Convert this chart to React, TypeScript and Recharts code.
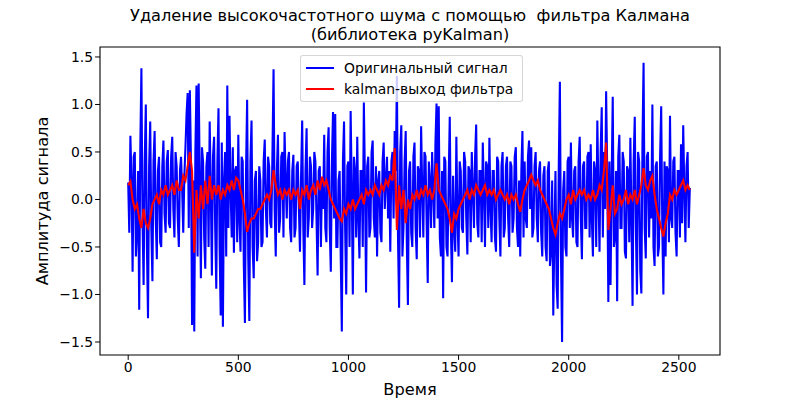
import { LineChart, Line, XAxis, YAxis, ReferenceArea } from "recharts";

// time step between plotted samples
const BLUE_STEP = 5;
const RED_STEP = 10;

const originalSignal = [
  0.18, -0.35, 0.67, 0.2, -0.76, 0.45, 0.5, -0.6, -0.35, 0.3, -1.16, 0.55, 1.38, -0.2, -0.9, 0.4, 1.0, -0.5, -1.25, 0.35,
  0.82, -0.3, -0.86, 0.4, 0.72, -0.2, -0.63, 0.3, 0.45, -0.45, -0.5, 0.35, 0.62, -0.15, -0.35, 0.4, 0.52, -0.25, -0.3, 0.45,
  0.66, -0.1, -0.4, 0.5, 0.35, -0.2, -0.5, 0.3, 0.45, 0.1, -0.35, 0.25, 0.55, 0.9, 1.12, -0.3, 1.15, 0.4, -1.32, 0.2,
  -1.39, 0.5, 1.2, -0.6, 1.22, 0.2, -0.83, 0.55, 0.4, -0.4, -0.73, 0.35, 0.5, -0.5, 0.82, 0.1, -0.8, 0.45, 0.66, -0.3,
  -0.94, 0.4, 0.96, -0.5, -1.22, 0.6, -1.34, 0.2, 0.5, -0.6, 1.2, -0.3, 0.88, 0.1, -0.4, 0.55, -0.56, 0.3, 0.35, -0.45,
  0.68, -0.2, -0.55, 0.45, 0.4, -0.7, -1.3, 0.3, 1.05, -0.6, -1.28, 0.4, 0.83, -0.5, -0.83, 0.2, 0.3, -0.65, -0.45, 0.35,
  0.2, -0.5, -0.45, 0.4, 0.63, -0.1, -0.4, 0.45, 0.35, -0.25, -0.3, 0.5, 1.37, -0.1, -0.6, 0.3, 0.68, -0.35, -0.2, 0.45,
  0.5, -0.4, 0.71, 0.2, -0.2, 0.4, 0.5, -0.3, -0.45, 0.3, 0.47, -0.4, -0.3, 0.35, 0.4, -0.1, -0.55, 0.25, 0.83, -0.3,
  -0.9, 0.3, 0.75, -0.4, -0.2, 0.45, 0.35, -0.3, -0.1, 0.5, 0.4, -0.2, -0.8, 0.3, 0.35, -0.5, 0.2, -0.1, 0.68, -0.3,
  -0.45, 0.5, 0.76, -0.3, -0.76, 0.4, 0.92, -0.2, 0.9, -0.5, -0.5, 0.2, 0.3, -0.6, -1.39, 0.4, 0.82, -0.3, -1.0, 0.35,
  0.4, -0.5, 0.93, 0.1, -1.0, 0.45, 0.3, -0.4, 0.66, -0.2, -0.62, 0.3, 0.3, -0.5, 1.02, 0.2, -0.98, 0.35, 0.45, -0.4,
  -0.3, 0.5, 0.62, -0.2, -0.4, 0.35, -0.6, 0.2, 0.3, -0.35, -0.45, 0.4, 0.6, -0.1, 0.2, 0.45, -0.2, 0.3, -0.55, 0.4,
  0.5, -0.2, 0.72, 0.3, 1.3, -0.4, -1.14, 0.5, 0.78, -0.6, -0.3, 0.4, 0.72, -0.45, -1.11, 0.3, 0.4, -0.35, -0.5, 0.45,
  0.6, -0.3, -0.63, 0.35, 0.3, -0.4, 0.77, 0.1, -0.4, 0.5, 0.45, -0.25, -0.88, 0.4, 0.2, -0.3, 0.5, 0.1, -0.3, 0.6,
  1.01, -0.2, 0.98, -0.4, -0.6, 0.3, -1.04, 0.45, 0.4, -0.5, -0.6, 0.2, 0.87, -0.3, -0.87, 0.25, -0.3, -0.55, 0.66, -0.2,
  -0.6, 0.4, 0.3, -0.3, -0.35, 0.5, 0.4, -0.2, -0.58, 0.35, 0.3, -0.45, 0.5, 0.1, -0.3, 0.45, 0.79, -0.25, -0.4, 0.3,
  0.3, -0.45, 0.6, 0.1, -0.5, 0.4, 0.35, -0.3, 0.65, -0.1, -0.45, 0.3, 0.3, -0.4, -0.55, 0.45, 0.4, -0.2, -0.6, 0.35,
  0.5, -0.4, -0.3, 0.35, 0.45, -0.2, -0.5, 0.4, 0.35, -0.35, -0.2, 0.45, 0.55, -0.3, -0.5, 0.2, -0.6, 0.3, 0.72, -0.4,
  0.4, -0.2, -0.3, 0.45, 0.62, -0.1, 0.55, -0.4, -0.3, 0.35, 0.5, -0.2, -0.45, 0.3, 0.4, -0.35, -0.6, 0.25, 0.35, -0.5,
  -0.65, 0.3, 0.4, -0.7, -0.55, 0.2, -1.22, -0.4, 0.3, -0.9, -1.15, 0.35, 1.24, -0.6, -1.5, 0.1, 0.3, -0.5, -0.6, 0.4,
  0.45, -0.3, 0.6, -0.2, -0.4, 0.3, 0.35, -0.45, -0.5, 0.4, 0.66, -0.2, -0.63, 0.35, 0.4, -0.3, -0.3, 0.45, 0.5, -0.4,
  0.58, -0.2, -0.6, 0.4, 0.3, -0.5, 0.83, 0.1, -0.55, 0.5, 0.97, -0.4, 0.5, -0.1, 1.14, 0.3, -1.08, 0.4, -0.9, 0.2,
  1.08, -0.5, -0.4, 0.3, -1.07, 0.45, 0.68, -0.3, -0.3, 0.5, 0.4, -0.55, -0.62, 0.35, 0.3, -0.45, 0.65, -0.2, -1.12, 0.4,
  0.87, -0.3, -1.0, 0.5, 0.4, -0.75, -0.99, 0.6, 1.44, -0.3, -0.62, 0.45, 0.5, -0.4, 0.3, -0.2, 1.0, -0.5, -0.7, 0.35,
  0.4, -0.6, -0.5, 0.45, 0.98, -0.3, -1.0, 0.4, -0.6, 0.35, 0.3, -0.45, 0.88, -0.2, -0.3, 0.4, 0.45, -0.35, -0.6, 0.3,
  0.3, -0.4, 0.58, -0.25, 0.78, 0.1, -0.45, 0.35, 0.5, -0.3, 0.12,
];

const kalmanOutput = [
  0.15, 0.19, 0.0, -0.1, -0.05, -0.2, -0.3, -0.1, -0.25, -0.3,
  -0.2, -0.05, 0.0, 0.05, -0.05, 0.1, 0.05, 0.15, 0.05, 0.1,
  0.15, 0.05, 0.2, 0.1, 0.1, 0.25, 0.2, 0.35, 0.5, 0.3,
  -0.56, 0.1, -0.2, 0.15, -0.1, 0.2, -0.05, 0.25, 0.0, 0.15,
  0.05, 0.15, 0.0, 0.1, 0.05, 0.15, 0.1, 0.2, 0.1, 0.23,
  0.2, 0.1, 0.0, -0.15, -0.34, -0.25, -0.2, -0.2, -0.15, -0.1,
  -0.1, -0.05, 0.0, 0.05, 0.0, 0.1, 0.31, 0.15, 0.05, 0.1,
  0.0, 0.1, 0.05, 0.1, 0.0, 0.1, 0.05, 0.1, -0.1, 0.1,
  0.05, 0.15, 0.0, 0.1, 0.15, 0.05, 0.2, 0.1, 0.24, 0.15,
  0.2, 0.1, 0.0, -0.05, -0.1, -0.15, -0.2, -0.23, -0.1, -0.15,
  -0.05, -0.1, 0.0, -0.1, -0.05, 0.0, 0.05, -0.05, 0.1, 0.05,
  0.1, 0.05, 0.15, 0.1, 0.05, 0.15, 0.1, 0.2, 0.15, 0.25,
  0.2, 0.54, -0.32, 0.15, -0.1, 0.1, -0.25, 0.0, -0.1, 0.05,
  0.0, 0.1, 0.0, 0.1, 0.05, 0.15, 0.05, 0.1, 0.0, 0.1,
  0.38, 0.1, 0.05, 0.0, -0.05, -0.1, -0.2, -0.35, -0.15, -0.2,
  -0.1, -0.05, 0.0, 0.05, 0.1, 0.0, 0.1, 0.05, 0.15, 0.1,
  0.05, 0.1, 0.15, 0.05, 0.1, 0.05, 0.1, 0.0, 0.05, 0.1,
  0.05, 0.0, 0.05, -0.05, 0.05, 0.0, 0.05, -0.05, -0.13, 0.0,
  0.1, 0.15, 0.2, 0.26, 0.2, 0.15, 0.2, 0.1, 0.05, 0.0,
  -0.05, -0.1, -0.2, -0.3, -0.37, -0.25, -0.15, -0.2, -0.1, 0.0,
  0.05, -0.05, 0.1, 0.0, 0.05, 0.1, 0.05, 0.1, 0.0, 0.05,
  0.0, 0.1, 0.0, 0.05, 0.15, 0.1, 0.3, 0.6, -0.32, -0.1,
  0.15, -0.15, -0.1, 0.05, -0.05, 0.0, 0.1, -0.05, 0.05, 0.0,
  0.1, -0.05, 0.05, 0.15, 0.33, 0.15, 0.1, 0.2, 0.25, 0.05,
  -0.1, -0.2, -0.3, -0.39, -0.25, -0.15, 0.05, 0.0, 0.1, 0.05,
  0.1, 0.15, 0.2, 0.1, 0.15, 0.1,
];

const xTicks = [0, 500, 1000, 1500, 2000, 2500];
const yTicks = [-1.5, -1.0, -0.5, 0.0, 0.5, 1.0, 1.5];

const X_DOMAIN: [number, number] = [-128, 2687];
const Y_DOMAIN: [number, number] = [-1.637, 1.605];

const blueData = originalSignal.map((v, i) => ({ t: i * BLUE_STEP, original: v }));
const redData = kalmanOutput.map((v, i) => ({ t: i * RED_STEP, kalman: v }));

const font = "'DejaVu Sans', sans-serif";
const tickStyle = { fontSize: 13.9, fill: "#000", fontFamily: font };

const fmtY = (v: number) => v.toFixed(1).replace("-", "\u2212");

const App = () => {
  return (
    <div
      style={{
        position: "absolute",
        left: 0,
        top: 0,
        width: 800,
        height: 400,
        background: "#fff",
        fontFamily: font,
      }}
    >
      <LineChart
        width={800}
        height={400}
        margin={{ top: 47, right: 80, bottom: 0, left: 40 }}
      >
        <XAxis
          dataKey="t"
          type="number"
          domain={X_DOMAIN}
          ticks={xTicks}
          allowDataOverflow
          height={45}
          tickSize={4.9}
          tickMargin={2}
          stroke="#000"
          axisLine={false}
          tick={tickStyle}
        />
        <YAxis
          type="number"
          domain={Y_DOMAIN}
          ticks={yTicks}
          allowDataOverflow
          width={60}
          tickSize={4.9}
          tickMargin={2}
          stroke="#000"
          axisLine={false}
          tick={tickStyle}
          tickFormatter={fmtY}
        />
        <Line
          data={blueData}
          type="linear"
          dataKey="original"
          stroke="#0000ff"
          strokeWidth={2.08}
          dot={false}
          isAnimationActive={false}
        />
        <Line
          data={redData}
          type="linear"
          dataKey="kalman"
          stroke="#ff0000"
          strokeWidth={2.08}
          dot={false}
          isAnimationActive={false}
        />
        <ReferenceArea
          x1={X_DOMAIN[0]}
          x2={X_DOMAIN[1]}
          y1={Y_DOMAIN[0]}
          y2={Y_DOMAIN[1]}
          fill="none"
          stroke="#000"
          strokeWidth={1.1}
        />
      </LineChart>

      {/* title */}
      <div
        style={{
          position: "absolute",
          left: 100,
          width: 620,
          top: 6,
          textAlign: "center",
          fontSize: 16.2,
          lineHeight: "19px",
          color: "#000",
        }}
      >
        Удаление высокочастотного шума с помощью&nbsp; фильтра Калмана
        <br />
        (библиотека pyKalman)
      </div>

      {/* axis labels */}
      <div
        style={{
          position: "absolute",
          left: 100,
          width: 620,
          top: 380,
          textAlign: "center",
          fontSize: 16.2,
          color: "#000",
        }}
      >
        Время
      </div>
      <div
        style={{
          position: "absolute",
          left: 42,
          top: 201,
          transform: "translate(-50%, -50%) rotate(-90deg)",
          whiteSpace: "nowrap",
          fontSize: 16.2,
          color: "#000",
        }}
      >
        Амплитуда сигнала
      </div>

      {/* legend */}
      <div
        style={{
          position: "absolute",
          left: 300,
          top: 55,
          width: 221,
          height: 45,
          border: "1px solid rgba(204,204,204,0.8)",
          borderRadius: 3,
          background: "rgba(255,255,255,0.8)",
          fontSize: 13.9,
          color: "#000",
        }}
      >
        {[
          { label: "Оригинальный сигнал", color: "#0000ff" },
          { label: "kalman-выход фильтра", color: "#ff0000" },
        ].map((item, i) => (
          <div
            key={item.label}
            style={{
              position: "absolute",
              left: 5,
              top: 3 + i * 21,
              height: 18,
              display: "flex",
              alignItems: "center",
              whiteSpace: "nowrap",
            }}
          >
            <span
              style={{
                display: "inline-block",
                width: 28,
                height: 2,
                background: item.color,
                marginRight: 10,
              }}
            />
            {item.label}
          </div>
        ))}
      </div>
    </div>
  );
};

export default App;
